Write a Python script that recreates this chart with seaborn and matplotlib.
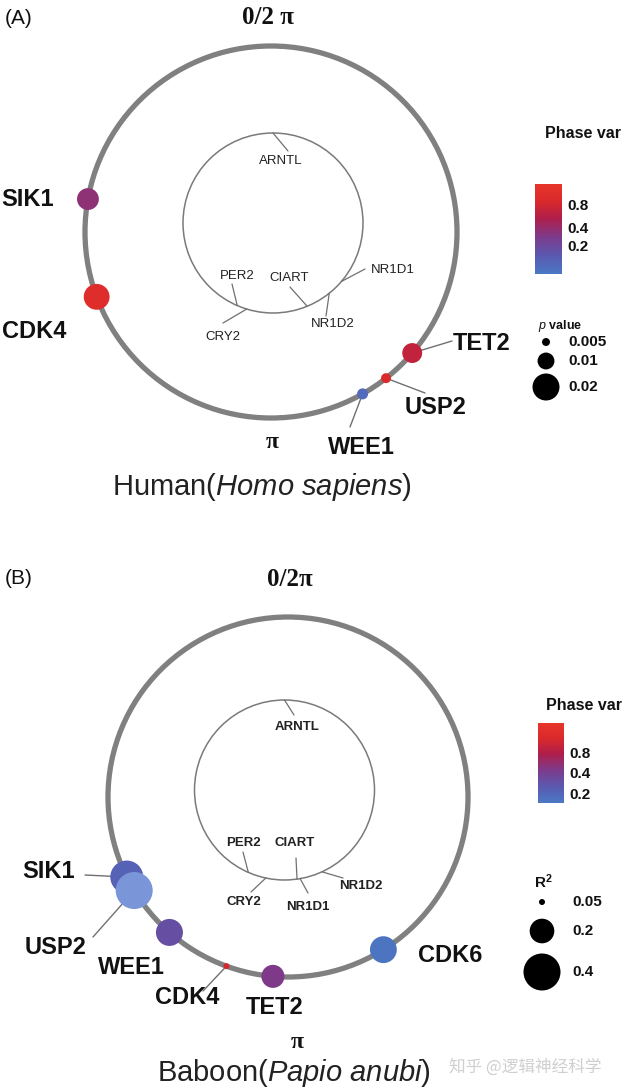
import matplotlib
matplotlib.use("Agg")
import matplotlib.pyplot as plt
import numpy as np
import pandas as pd
import seaborn as sns
from matplotlib import colors, cm

sns.set_theme(style="white")
plt.rcParams['font.family'] = ['Liberation Sans', 'DejaVu Sans']
plt.rcParams['mathtext.fontset'] = 'custom'
plt.rcParams['mathtext.rm'] = 'Liberation Sans'
plt.rcParams['mathtext.it'] = 'Liberation Sans:italic'
plt.rcParams['mathtext.bf'] = 'Liberation Sans:bold'

W, H = 627, 1092

# ---- data: human (A)
human_genes = ['SIK1', 'CDK4', 'TET2', 'USP2', 'WEE1']
human_phase_deg = [280.2, 249.6, 130.6, 141.8, 150.5]
human_phase_var = [0.36, 1.0, 0.67, 0.9, 0.09]
human_pvalue = [0.0143, 0.0186, 0.0125, 0.0058, 0.0063]
human_clock = ['ARNTL', 'PER2', 'CRY2', 'CIART', 'NR1D2', 'NR1D1']
human_clock_deg = [0, 203.4, 197, 157.7, 141.3, 130.5]
pvalue_legend = [0.005, 0.01, 0.02]

# ---- data: baboon (B)
baboon_genes = ['SIK1', 'USP2', 'WEE1', 'CDK4', 'TET2', 'CDK6']
baboon_phase_deg = [243.6, 238.7, 221.2, 200.0, 184.8, 148.0]
baboon_phase_var = [0.214, 0.12, 0.30, 1.2, 0.44, 0.155]
baboon_r2 = [0.326, 0.42, 0.232, 0.047, 0.18, 0.23]
baboon_clock = ['ARNTL', 'PER2', 'CRY2', 'CIART', 'NR1D1', 'NR1D2']
baboon_clock_deg = [0, 203.7, 192, 172, 170, 155.4]
r2_legend = [0.05, 0.2, 0.4]

cbar_ticks = [0.2, 0.4, 0.8]

cmap = colors.LinearSegmentedColormap.from_list(
    'phase', [(0, '#4a78c4'), (0.2, '#5a5ab0'), (0.4, '#7a3c8e'),
              (0.62, '#b01e4a'), (0.8, '#d8282c'), (1, '#e8352a')])
cmap.set_under('#7b96d8')
norm_a = colors.PowerNorm(gamma=0.5, vmin=0.08, vmax=1.28)
norm_b = colors.LogNorm(vmin=0.1426, vmax=2.14)

# layout (pixels)
lay_a = dict(top=0, bottom=546, center=(271, 232), r=186,
             inner=(273, 223), ir=90,
             tick_end={'ARNTL': (288, 151), 'PER2': (232, 284), 'CRY2': (223, 323),
                       'CIART': (290, 287), 'NR1D2': (326, 316), 'NR1D1': (365, 269)},
             clock_lab={'ARNTL': (281, 161), 'PER2': (237, 276), 'CRY2': (223, 337),
                        'CIART': (289, 278), 'NR1D2': (333, 324), 'NR1D1': (393, 270)},
             gene_lab={'SIK1': (54, 199, 'right'), 'CDK4': (66, 332, 'right'),
                       'TET2': (453, 343, 'left'), 'USP2': (405, 407, 'left'),
                       'WEE1': (328, 447, 'left')},
             leaders={'TET2': (452, 341), 'USP2': (425, 393), 'WEE1': (350, 427)},
             zero=(268, 18), pi=(272, 443), species=(262, 487),
             species_txt=r'Human($\it{Homo\ sapiens}$)', tag='(A)', tag_y=18,
             zero_txt='0/2 π', clock_weight='normal')
lay_b = dict(top=546, bottom=1092, center=(288, 797), r=180,
             inner=(284.5, 790), ir=90,
             tick_end={'ARNTL': (294, 715), 'PER2': (243, 852), 'CRY2': (251, 892),
                       'CIART': (296, 858), 'NR1D1': (308, 893), 'NR1D2': (343, 878)},
             clock_lab={'ARNTL': (297, 727), 'PER2': (243, 843), 'CRY2': (244, 902),
                        'CIART': (295, 843), 'NR1D1': (308, 907), 'NR1D2': (361, 886)},
             gene_lab={'SIK1': (75, 872, 'right'), 'USP2': (87, 948, 'right'),
                       'WEE1': (98, 968, 'left'), 'CDK4': (155, 997, 'left'),
                       'TET2': (275, 1008, 'center'), 'CDK6': (418, 955, 'left')},
             leaders={'SIK1': (85, 875), 'USP2': (93, 937), 'CDK4': (203, 991)},
             zero=(290, 580), pi=(297, 1042), species=(294, 1073),
             species_txt=r'Baboon($\it{Papio\ anubi}$)', tag='(B)', tag_y=578,
             zero_txt='0/2π', clock_weight='bold')

fig = plt.figure(figsize=(W / 100, H / 100), dpi=100)


def to_data(lay, pt):
    cx, cy = lay['center']
    return (pt[0] - cx) / lay['r'], (cy - pt[1]) / lay['r']


def draw_panel(lay, genes, phase_deg, phase_var, sval, norm, sizes, size_norm,
               clock, clock_deg):
    cx, cy = lay['center']
    r = lay['r']
    ax = fig.add_axes([0, 1 - lay['bottom'] / H, 1, (lay['bottom'] - lay['top']) / H])
    ax.set_xlim(-cx / r, (W - cx) / r)
    ax.set_ylim((cy - lay['bottom']) / r, (cy - lay['top']) / r)
    ax.axis('off')

    ax.add_patch(plt.Circle((0, 0), 1, fill=False, ec='#808080', lw=3.8, zorder=1))

    icx, icy = to_data(lay, lay['inner'])
    ir = lay['ir'] / r
    ax.add_patch(plt.Circle((icx, icy), ir, fill=False, ec='#7a7a7a', lw=1.1, zorder=1))

    for g, d in zip(clock, clock_deg):
        ph = np.deg2rad(d)
        x0, y0 = icx + ir * np.sin(ph), icy + ir * np.cos(ph)
        x1, y1 = to_data(lay, lay['tick_end'][g])
        ax.plot([x0, x1], [y0, y1], color='#707070', lw=0.9, zorder=1)
        lx, ly = to_data(lay, lay['clock_lab'][g])
        ax.text(lx, ly, g, ha='center', va='center', fontsize=9.5,
                fontweight=lay['clock_weight'], color='#222222')

    ph = np.deg2rad(phase_deg)
    df = pd.DataFrame({'x': np.sin(ph), 'y': np.cos(ph),
                       'var': phase_var, 'size': sval, 'gene': genes})
    for g, row in df.set_index('gene').iterrows():
        if g in lay['leaders']:
            x1, y1 = to_data(lay, lay['leaders'][g])
            ax.plot([row.x, x1], [row.y, y1], color='#707070', lw=1.0, zorder=2)
    sns.scatterplot(data=df, x='x', y='y', hue='var', size='size', palette=cmap,
                    hue_norm=norm, sizes=sizes, size_norm=size_norm, linewidth=0,
                    legend=False, ax=ax, zorder=3)
    ax.set_xlabel('')
    ax.set_ylabel('')

    for g, (lx, ly, ha) in lay['gene_lab'].items():
        x, y = to_data(lay, (lx, ly))
        ax.text(x, y, g, ha=ha, va='center', fontsize=17, fontweight='bold',
                color='#111111')
    return ax


def fig_text(pt, s, **kw):
    fig.text(pt[0] / W, 1 - pt[1] / H, s, **kw)


def draw_cbar(box, norm):
    x0, y0, x1, y1 = box
    cax = fig.add_axes([x0 / W, 1 - y1 / H, (x1 - x0) / W, (y1 - y0) / H])
    sm = cm.ScalarMappable(norm=norm, cmap=cmap)
    cb = fig.colorbar(sm, cax=cax, ticks=cbar_ticks)
    cb.outline.set_visible(False)
    cax.yaxis.set_minor_locator(matplotlib.ticker.NullLocator())
    cb.set_ticklabels([f'{v:g}' for v in cbar_ticks])
    cax.tick_params(axis='y', direction='in', color='#f4d8e8', length=7, width=1,
                    labelsize=11, pad=4, right=True, left=False)
    for lab in cax.get_yticklabels():
        lab.set_fontweight('bold')
        lab.set_color('#111111')


def draw_size_legend(box, xs, ys, vals, sizes, size_norm, labx, title, title_pt, tsize):
    x0, y0, x1, y1 = box
    lax = fig.add_axes([x0 / W, 1 - y1 / H, (x1 - x0) / W, (y1 - y0) / H])
    lax.set_xlim(x0, x1)
    lax.set_ylim(y1, y0)
    lax.axis('off')
    ldf = pd.DataFrame({'x': [xs] * len(vals), 'y': ys, 'v': vals})
    sns.scatterplot(data=ldf, x='x', y='y', size='v', sizes=sizes, size_norm=size_norm,
                    color='black', linewidth=0, legend=False, ax=lax)
    for yy, v in zip(ys, vals):
        lax.text(labx, yy, f'{v:g}', ha='left', va='center', fontsize=11,
                 fontweight='bold', color='#111111')
    fig_text(title_pt, title, ha='center', va='center', fontsize=tsize,
             fontweight='bold', color='#111111')


for lay, args in [
    (lay_a, (human_genes, human_phase_deg, human_phase_var, human_pvalue, norm_a,
             (33, 378), (0.005, 0.02), human_clock, human_clock_deg)),
    (lay_b, (baboon_genes, baboon_phase_deg, baboon_phase_var, baboon_r2, norm_b,
             (18.7, 710), (0.05, 0.4), baboon_clock, baboon_clock_deg)),
]:
    draw_panel(lay, *args)
    fig_text((5, lay['tag_y']), lay['tag'], ha='left', va='center', fontsize=15,
             color='#111111')
    fig_text(lay['zero'], lay['zero_txt'], ha='center', va='center', fontsize=18,
             fontweight='bold', family='Liberation Serif', color='#111111')
    fig_text(lay['pi'], 'π', ha='center', va='center', fontsize=17,
             fontweight='bold', family='Liberation Serif', color='#111111')
    fig_text(lay['species'], lay['species_txt'], ha='center', va='center',
             fontsize=21, color='#222222')

# legends A
fig_text((583, 133), 'Phase var', ha='center', va='center', fontsize=11.5,
         fontweight='bold', color='#111111')
draw_cbar((535, 184, 562, 274), norm_a)
draw_size_legend((520, 330, 627, 405), 546, [342, 361, 387], pvalue_legend,
                 (33, 378), (0.005, 0.02), 568, r'$\bf{\it{p}}$ value', (560, 326), 9)

# legends B
fig_text((584, 705), 'Phase var', ha='center', va='center', fontsize=11.5,
         fontweight='bold', color='#111111')
draw_cbar((538, 723, 564, 803), norm_b)
draw_size_legend((515, 890, 627, 995), 542, [902, 931, 972], r2_legend,
                 (18.7, 710), (0.05, 0.4), 572, r'R$^{\bf 2}$', (543, 882), 11)

fig_text((525, 1067), '知乎 @逻辑神经科学', ha='center', va='center', fontsize=12,
         family=['Noto Sans CJK SC', 'DejaVu Sans'], color='#c4c4c4', alpha=0.8)

fig.savefig('out.png', dpi=100)
